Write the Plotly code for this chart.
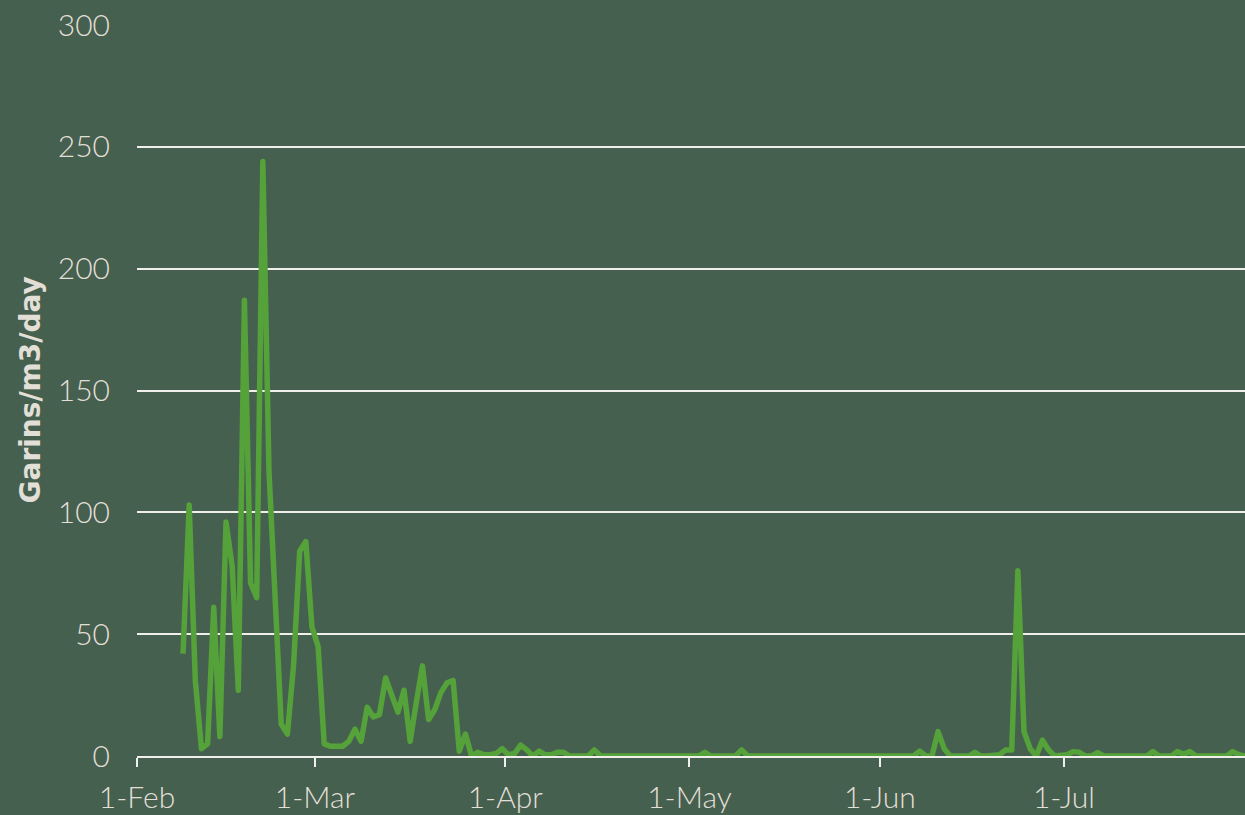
import pandas as pd
import plotly.graph_objects as go

# daily readings, 8 Feb to 31 Jul (2020, leap year)
start_date = '2020-02-08'
feb_vals = [42, 103, 31, 3, 5, 61, 8, 96, 78, 27, 187, 71, 65, 244, 117, 65,
            13, 9, 37, 84, 88, 53]
mar_vals = [45, 5, 4, 4, 4, 6, 11, 6, 20, 16, 17, 32, 25, 18, 27, 6, 22, 37,
            15, 19, 26, 30, 31, 2, 9, 0, 1.5, 0.5, 0.5, 1, 3]
apr_vals = [0.5, 1, 4.5, 2.5, 0, 2, 0.5, 0.5, 1.5, 1.5, 0, 0, 0, 0, 2.5,
            0, 0, 0, 0, 0, 0, 0, 0, 0, 0, 0, 0, 0, 0, 0]
may_vals = [0, 0, 1.5, 0, 0, 0, 0, 0, 2.5, 0, 0, 0, 0, 0, 0, 0, 0, 0, 0, 0,
            0, 0, 0, 0, 0, 0, 0, 0, 0, 0, 0]
jun_vals = [0, 0, 0, 0, 0, 0, 2, 0, 0, 10, 3, 0, 0, 0, 0, 1.5, 0, 0, 0, 0.5,
            2.5, 2.5, 76, 10, 3, 0, 6.5, 2.5, 0, 0]
jul_vals = [0.5, 1.8, 1.5, 0, 0, 1.4, 0, 0, 0, 0, 0, 0, 0, 0, 1.8, 0, 0, 0,
            1.8, 0.7, 1.8, 0, 0, 0, 0, 0, 0, 1.8, 0.5, 0, 0]

tick_dates = ['2020-02-01', '2020-03-01', '2020-04-01', '2020-05-01',
              '2020-06-01', '2020-07-01']
tick_labels = ['1-Feb', '1-Mar', '1-Apr', '1-May', '1-Jun', '1-Jul']
y_ticks = [0, 50, 100, 150, 200, 250, 300]

values = feb_vals + mar_vals + apr_vals + may_vals + jun_vals + jul_vals
dates = pd.date_range(start_date, periods=len(values), freq='D')
# points sit in the middle of each day, ticks on the day boundary
x_pos = dates + pd.Timedelta(hours=12)

bg = '#46604f'
txt = '#e2dfd7'
grid = '#f0efeb'

fig = go.Figure()
fig.add_trace(go.Scatter(
    x=x_pos, y=values, mode='lines',
    line=dict(color='#55a13a', width=5.5),
    showlegend=False, hoverinfo='skip'
))

fig.update_layout(
    width=1245, height=815,
    margin=dict(l=137, r=0, t=25, b=59),
    paper_bgcolor=bg, plot_bgcolor=bg,
    font=dict(family='Lato', color=txt, size=30, weight=300),
    xaxis=dict(
        type='date',
        range=['2020-02-01', '2020-07-30 12:00'],
        tickvals=tick_dates, ticktext=tick_labels,
        showgrid=False, zeroline=False,
        showline=True, linecolor=grid, linewidth=2,
        ticks='outside', ticklen=9, tickwidth=2, tickcolor=grid,
        ticklabelstandoff=5,
        tickfont=dict(size=30, color=txt, weight=300),
    ),
    yaxis=dict(
        range=[0, 300], tickvals=y_ticks,
        showgrid=True, gridcolor=grid, gridwidth=2,
        zeroline=False, showline=False, ticks='',
        ticklabelstandoff=26,
        tickfont=dict(size=30, color=txt, weight=300),
    ),
    annotations=[dict(
        text='<b>Garins/m3/day</b>', textangle=-90,
        xref='paper', yref='paper', x=(30 - 137) / 1108, y=0.5,
        xanchor='center', yanchor='middle', showarrow=False,
        font=dict(family='DejaVu Sans', size=28, color=txt),
    )],
)

# no page margin, rounded line joins like the original
js = """
document.body.style.margin = '0';
document.body.style.overflow = 'hidden';
document.querySelectorAll('.scatterlayer path.js-line').forEach(function (p) {
    p.style.strokeLinejoin = 'round';
});
"""
fig.write_html('out.html', post_script=js, config={'displayModeBar': False})
